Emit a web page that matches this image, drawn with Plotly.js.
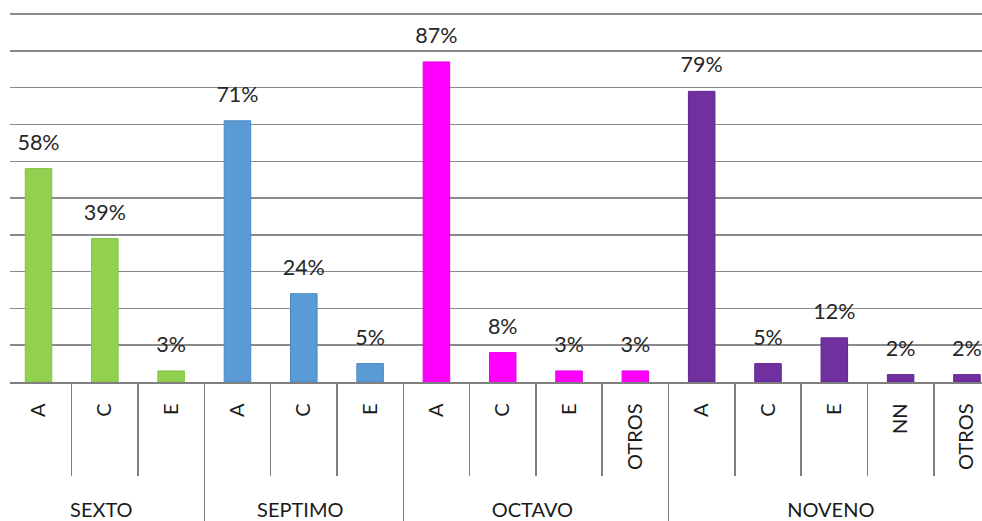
<!DOCTYPE html>
<html>
<head>
<meta charset="utf-8">
<script src="https://cdn.plot.ly/plotly-3.0.1.min.js"></script>
<style>
  html, body { margin: 0; padding: 0; background: #ffffff; }
  #chart { width: 982px; height: 521px; }
</style>
</head>
<body>
<div id="chart"></div>
<script>
// Data (NOVENO listed before OCTAVO-OTROS so that
// Plotly's multicategory ordering gives A, C, E, NN, OTROS inside NOVENO)
const groups = ["SEXTO", "SEXTO", "SEXTO",
                "SEPTIMO", "SEPTIMO", "SEPTIMO",
                "OCTAVO", "OCTAVO", "OCTAVO",
                "NOVENO", "NOVENO", "NOVENO", "NOVENO", "NOVENO",
                "OCTAVO"];
const categories = ["A", "C", "E",
                    "A", "C", "E",
                    "A", "C", "E",
                    "A", "C", "E", "NN", "OTROS",
                    "OTROS"];
const values = [58, 39, 3,
                71, 24, 5,
                87, 8, 3,
                79, 5, 12, 2, 2,
                3];
const groupColors = {
  SEXTO: "#92D050",
  SEPTIMO: "#5B9BD5",
  OCTAVO: "#FF00FF",
  NOVENO: "#7030A0"
};
const groupLines = {
  SEXTO: "#86C146",
  SEPTIMO: "#4A89C4",
  OCTAVO: "#E600E6",
  NOVENO: "#5F2590"
};
const FONT = "Lato, 'Open Sans', sans-serif";

const bars = {
  type: "bar",
  x: [groups, categories],
  y: values,
  marker: {
    color: groups.map(g => groupColors[g]),
    line: { color: groups.map(g => groupLines[g]), width: 1 }
  },
  hoverinfo: "none"
};

// value labels above the bars (invisible markers give the gap above each bar)
const labels = {
  type: "scatter",
  mode: "markers+text",
  x: [groups, categories],
  y: values,
  text: values.map(v => v + "%"),
  textposition: "top center",
  textfont: { family: FONT, size: 21.5, color: "#262626" },
  marker: { size: 20, color: "rgba(0,0,0,0)" },
  cliponaxis: false,
  hoverinfo: "none"
};

const layout = {
  width: 982,
  height: 521,
  margin: { l: 10, r: 0, t: 13, b: 139 },
  paper_bgcolor: "#ffffff",
  plot_bgcolor: "#ffffff",
  showlegend: false,
  bargap: 0.6,
  font: { family: FONT, size: 20, color: "#1a1a1a" },
  xaxis: {
    type: "multicategory",
    range: [-0.43, 14.227],
    showline: true,
    linecolor: "#7f7f7f",
    linewidth: 1.5,
    ticks: "outside",
    tickson: "boundaries",
    ticklen: 92,
    tickwidth: 1.5,
    tickcolor: "#7f7f7f",
    ticklabelstandoff: 12,
    tickangle: -90,
    tickprefix: "\u00a0\u00a0\u00a0\u00a0",
    tickfont: { family: FONT, size: 20, color: "#1a1a1a" },
    showdividers: true,
    dividercolor: "#7f7f7f",
    dividerwidth: 1.5,
    showgrid: false,
    automargin: false,
    fixedrange: true
  },
  yaxis: {
    range: [0, 100.3],
    dtick: 10,
    showticklabels: false,
    showgrid: true,
    gridcolor: "#8a8a8a",
    gridwidth: 1.5,
    zeroline: false,
    showline: false,
    ticks: "",
    fixedrange: true
  }
};

Plotly.newPlot("chart", [bars, labels], layout, { displayModeBar: false, staticPlot: true });
</script>
</body>
</html>
